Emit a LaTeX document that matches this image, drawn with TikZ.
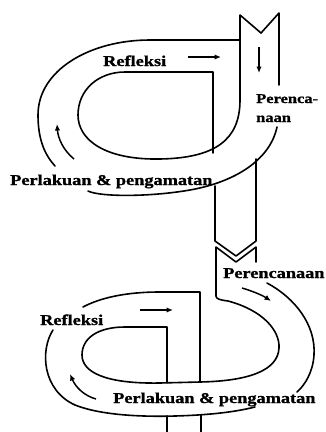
\documentclass[tikz,border=0pt]{standalone}
\usepackage{fontspec}
\newfontfamily\lblfont{Liberation Serif}[FakeStretch=1.22,FakeBold=1.2]
\usetikzlibrary{arrows.meta}
\begin{document}
\begin{tikzpicture}[x=1pt,y=-1pt,
  band/.style={line width=1.6pt, line join=round, line cap=round},
  lbl/.style={font=\lblfont\bfseries\fontsize{15}{18}\selectfont, inner sep=0pt, anchor=base west},
  slbl/.style={font=\lblfont\bfseries\fontsize{13.5}{16}\selectfont, inner sep=0pt, anchor=base west},
  flow/.style={line width=1.5pt, -{Latex[length=6.5pt,width=5.5pt]}}]
\useasboundingbox (0,0) rectangle (326,432);

% ---------- upper cycle ----------
% incoming band, left edge turning into inner loop
\draw[band] (261,33) -- (240,15) -- (240,100)
  .. controls (240,140) and (215,158) .. (160,159)
  .. controls (105,160) and (78,140) .. (78,115)
  .. controls (78,90) and (98,72) .. (125,72) -- (213,72) -- (213,153);
\draw[band] (261,33) -- (279,13) -- (279,85);
% outer loop, top and left
\draw[band] (240,40) -- (150,40)
  .. controls (90,40) and (38,70) .. (38,115)
  .. controls (38,140) and (45,155) .. (55,166);
% outer loop, bottom and right
\draw[band] (88,191) .. controls (100,197) and (150,197) .. (190,190)
  .. controls (235,182) and (270,160) .. (277,127);
% band going down to the second cycle (pointed end)
\draw[band] (215,186) -- (215,241) -- (236,256) -- (256,241) -- (256,159);

% ---------- lower cycle ----------
\draw[band] (256,262) -- (256,247) -- (236,262) -- (216,247) -- (216,296)
  .. controls (216,299) and (220,300) .. (228,301)
  .. controls (262,310) and (280,330) .. (279,348)
  .. controls (278,370) and (250,381) .. (200,382) -- (160,383)
  .. controls (105,384) and (82,372) .. (82,355)
  .. controls (82,338) and (98,327) .. (125,327) -- (167,327) -- (167,383);
\draw[band] (200,381) -- (200,292) -- (160,292)
  .. controls (125,292) and (100,298) .. (83,307);
\draw[band] (267,283) .. controls (295,298) and (316,325) .. (314,355)
  .. controls (313,372) and (305,385) .. (297,392);
\draw[band] (53,330) .. controls (40,350) and (42,390) .. (75,405)
  .. controls (100,415) and (140,417) .. (175,416)
  .. controls (210,415) and (235,412) .. (255,407);
\draw[band] (167,416) -- (167,432);
\draw[band] (201,415) -- (201,432);

% ---------- labels ----------
\node[lbl] (r1) at (103,66) {Refleksi};
\node[slbl] (p1a) at (256,103) {Perenca-};
\node[slbl] (p1b) at (256,122) {naan};
\node[lbl] (a1) at (10,185) {Perlakuan \& pengamatan};
\node[lbl] (p2) at (223,278) {Perencanaan};
\node[lbl] (r2) at (40,325) {Refleksi};
\node[lbl] (a2) at (113,403) {Perlakuan \& pengamatan};

% ---------- direction arrows ----------
\coordinate (t1s) at (188,57); \coordinate (t1e) at (221,57);
\coordinate (d1s) at (259,47); \coordinate (d1e) at (259,73);
\coordinate (u1s) at (74,159); \coordinate (u1e) at (57,124);
\coordinate (t2s) at (140,310); \coordinate (t2e) at (173,310);
\coordinate (d2s) at (242,288); \coordinate (d2e) at (271,301);
\coordinate (u2s) at (96,399); \coordinate (u2e) at (70,374);
\draw[flow] (t1s) -- (t1e);
\draw[flow] (d1s) -- (d1e);
\draw[flow] (u1s) .. controls (63,150) and (58,138) .. (u1e);
\draw[flow] (t2s) -- (t2e);
\draw[flow] (d2s) .. controls (252,291) and (262,295) .. (d2e);
\draw[flow] (u2s) .. controls (85,396) and (76,388) .. (u2e);
\end{tikzpicture}
\end{document}
